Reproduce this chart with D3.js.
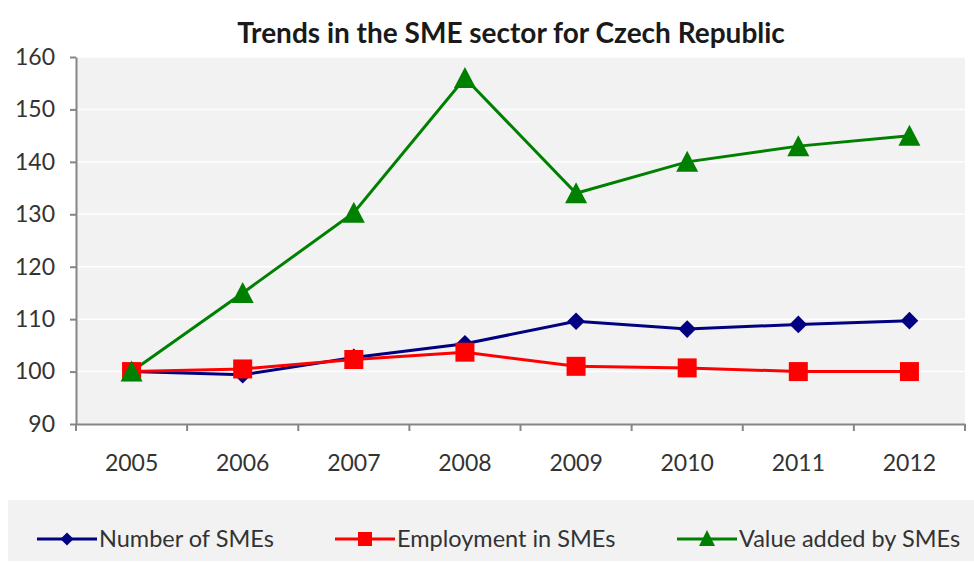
<!DOCTYPE html>
<html>
<head>
<meta charset="utf-8">
<script src="https://cdn.jsdelivr.net/npm/d3@7"></script>
<style>
  body { margin: 0; background: #fff; }
  text { font-family: Lato, "Open Sans", sans-serif; }
</style>
</head>
<body>
<div id="chart"></div>
<script>
// data
const years = ['2005', '2006', '2007', '2008', '2009', '2010', '2011', '2012'];
const numberOfSMEs = [100, 99.4, 102.7, 105.3, 109.6, 108.1, 109.0, 109.7];
const employmentInSMEs = [100, 100.5, 102.3, 103.7, 101.0, 100.7, 100.0, 100.0];
const valueAddedBySMEs = [100, 115, 130.3, 156, 134, 140, 143, 145];
const yTicks = [90, 100, 110, 120, 130, 140, 150, 160];

const series = [
  {name: 'Number of SMEs', values: numberOfSMEs, color: '#000080', marker: 'diamond'},
  {name: 'Employment in SMEs', values: employmentInSMEs, color: '#ff0000', marker: 'square'},
  {name: 'Value added by SMEs', values: valueAddedBySMEs, color: '#008000', marker: 'triangle'},
];

const W = 974, H = 562;
const plotL = 76, plotR = 965, plotT = 57, plotB = 424;

const svg = d3.select('#chart').append('svg')
  .attr('width', W).attr('height', H);

const x = d3.scaleBand().domain(years).range([plotL, plotR]);
const y = d3.scaleLinear().domain([90, 160]).range([plotB, plotT]);
const cx = d => x(d) + x.bandwidth() / 2;

// plot background + grid
svg.append('rect')
  .attr('x', plotL).attr('y', plotT)
  .attr('width', plotR - plotL).attr('height', plotB - plotT)
  .attr('fill', '#f2f2f2');

svg.append('g').selectAll('line').data(yTicks.slice(1)).enter().append('line')
  .attr('x1', plotL).attr('x2', plotR)
  .attr('y1', d => y(d)).attr('y2', d => y(d))
  .attr('stroke', '#ffffff').attr('stroke-width', 1.5);

// title
svg.append('text')
  .attr('x', 511).attr('y', 43)
  .attr('text-anchor', 'middle')
  .attr('font-size', 28).attr('font-weight', 'bold')
  .attr('fill', '#1a1a1a')
  .text('Trends in the SME sector for Czech Republic');

// y axis
const yAxis = svg.append('g')
  .attr('transform', `translate(${plotL},0)`)
  .call(d3.axisLeft(y).tickValues(yTicks).tickSize(6).tickPadding(15).tickSizeOuter(0));
yAxis.select('.domain').attr('stroke', '#868686').attr('stroke-width', 2);
yAxis.selectAll('.tick line').attr('stroke', '#868686').attr('stroke-width', 2);
yAxis.selectAll('.tick text').attr('font-size', 23).attr('fill', '#333').attr('font-family', 'Lato, sans-serif');

// x axis: labels centred, ticks on band boundaries
const xAxis = svg.append('g')
  .attr('transform', `translate(0,${plotB})`)
  .call(d3.axisBottom(x).tickSize(0).tickPadding(31).tickSizeOuter(0));
xAxis.select('.domain').attr('stroke', '#868686').attr('stroke-width', 2);
xAxis.selectAll('.tick text').attr('font-size', 23).attr('fill', '#333').attr('font-family', 'Lato, sans-serif');

const bounds = years.map(d => x(d)).concat([x.range()[1]]);
xAxis.selectAll('line.bound').data(bounds).enter().append('line')
  .attr('class', 'bound')
  .attr('x1', d => d).attr('x2', d => d)
  .attr('y1', 0).attr('y2', 7)
  .attr('stroke', '#868686').attr('stroke-width', 2);

// markers
const markerPath = function(type){
  if (type === 'diamond') return d3.symbol(d3.symbolDiamond2, 200)();
  if (type === 'square') return 'M-9.5,-9.5 L9.5,-9.5 L9.5,9.5 L-9.5,9.5 Z';
  return 'M0,-11 L11,10 L-11,10 Z';
};

const line = d3.line()
  .x((v, i) => cx(years[i]))
  .y(v => y(v));

const g = svg.append('g');
series.forEach(s => {
  g.append('path')
    .attr('d', line(s.values))
    .attr('fill', 'none')
    .attr('stroke', s.color)
    .attr('stroke-width', 3);
});
series.forEach(s => {
  g.append('g').selectAll('path').data(s.values).enter().append('path')
    .attr('d', markerPath(s.marker))
    .attr('transform', (v, i) => `translate(${cx(years[i])},${y(v)})`)
    .attr('fill', s.color);
});

// legend
const legend = svg.append('g');
legend.append('rect')
  .attr('x', 8).attr('y', 500)
  .attr('width', W - 8).attr('height', 61)
  .attr('fill', '#f2f2f2');

const legendX = [37, 335, 677];
const item = legend.selectAll('g.item').data(series).enter().append('g')
  .attr('class', 'item')
  .attr('transform', (d, i) => `translate(${legendX[i]},539)`);
item.append('line')
  .attr('x1', 0).attr('x2', 60)
  .attr('stroke', d => d.color).attr('stroke-width', 3);
item.append('path')
  .attr('d', d => d.marker === 'diamond' ? d3.symbol(d3.symbolDiamond2, 110)()
    : d.marker === 'square' ? 'M-7,-7 L7,-7 L7,7 L-7,7 Z' : 'M0,-9 L8,7 L-8,7 Z')
  .attr('transform', 'translate(30,0)')
  .attr('fill', d => d.color);
item.append('text')
  .attr('x', 62).attr('y', 8)
  .attr('font-size', 23.5).attr('fill', '#333')
  .text(d => d.name);
</script>
</body>
</html>
